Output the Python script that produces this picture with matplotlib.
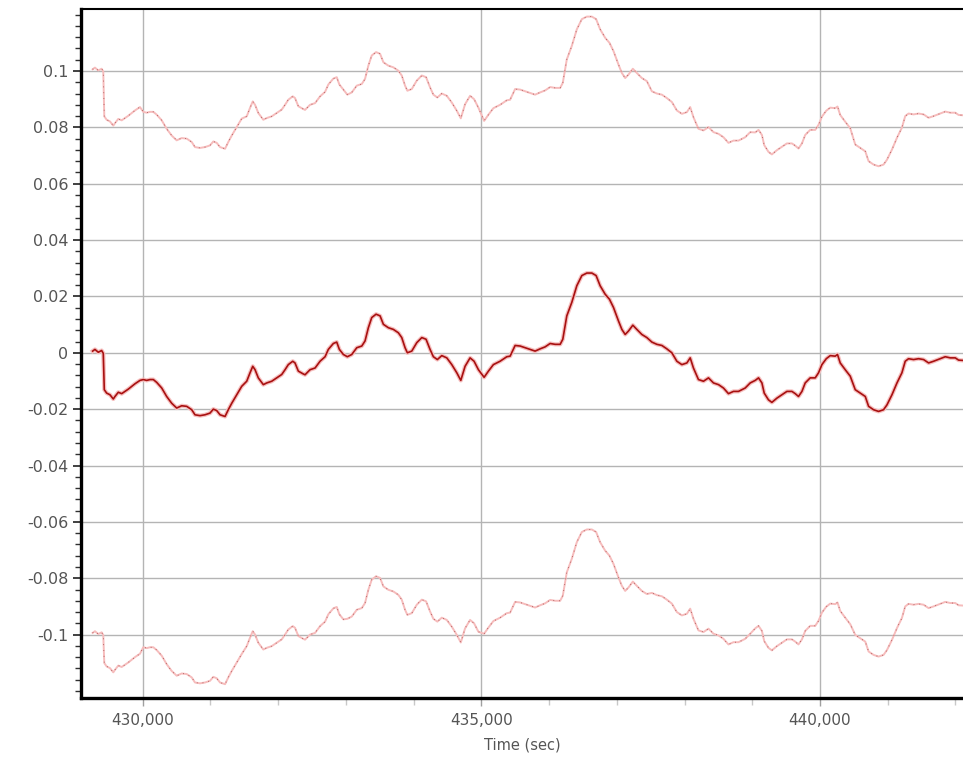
import matplotlib
matplotlib.use("Agg")
import matplotlib.pyplot as plt
from matplotlib.ticker import FixedLocator, MultipleLocator, FuncFormatter

# time stamps (sec)
time = [
    429261, 429295, 429344, 429394, 429418, 429433, 429468, 429517, 429566, 429591,
    429640, 429690, 429739, 429787, 429838, 429886, 429960, 430009, 430059, 430108,
    430157, 430207, 430281, 430354, 430428, 430502, 430576, 430650, 430724, 430772,
    430846, 430920, 430994, 431043, 431093, 431142, 431216, 431264, 431315, 431388,
    431462, 431536, 431585, 431625, 431659, 431707, 431781, 431831, 431905, 431979,
    432053, 432102, 432150, 432216, 432249, 432298, 432363, 432397, 432471, 432545,
    432619, 432693, 432741, 432815, 432865, 432904, 432963, 433022, 433087, 433161,
    433235, 433283, 433332, 433382, 433446, 433505, 433554, 433627, 433701, 433775,
    433825, 433874, 433908, 433973, 434047, 434121, 434184, 434243, 434292, 434351,
    434416, 434490, 434564, 434638, 434697, 434760, 434834, 434893, 434957, 435041,
    435105, 435178, 435277, 435376, 435425, 435499, 435573, 435647, 435720, 435794,
    435868, 435942, 436016, 436090, 436164, 436203, 436262, 436336, 436410, 436484,
    436558, 436632, 436695, 436754, 436828, 436892, 436951, 437025, 437075, 437124,
    437172, 437237, 437296, 437370, 437444, 437518, 437592, 437666, 437739, 437813,
    437887, 437961, 438035, 438084, 438132, 438206, 438280, 438354, 438428, 438502,
    438575, 438649, 438723, 438797, 438896, 438970, 439044, 439093, 439143, 439177,
    439240, 439290, 439364, 439438, 439512, 439586, 439635, 439683, 439734, 439782,
    439856, 439930, 439979, 440029, 440093, 440152, 440225, 440259, 440299, 440373,
    440447, 440521, 440595, 440669, 440718, 440791, 440865, 440939, 440989, 441063,
    441137, 441210, 441259, 441308, 441382, 441456, 441530, 441604, 441678, 441776,
    441850, 441924, 441998, 442047, 442111,
]

# estimate (dark red line)
estimate = [
    0.0006, 0.0012, 0.0002, 0.0008, -0.0002, -0.0131, -0.0143, -0.0149, -0.0164, -0.0155,
    -0.0140, -0.0145, -0.0137, -0.0129, -0.0119, -0.0110, -0.0098, -0.0095, -0.0098, -0.0095,
    -0.0095, -0.0105, -0.0125, -0.0155, -0.0179, -0.0196, -0.0188, -0.0190, -0.0202, -0.0220,
    -0.0223, -0.0220, -0.0214, -0.0200, -0.0205, -0.0220, -0.0226, -0.0202, -0.0179, -0.0149,
    -0.0119, -0.0101, -0.0071, -0.0048, -0.0060, -0.0089, -0.0113, -0.0107, -0.0101, -0.0089,
    -0.0077, -0.0060, -0.0042, -0.0030, -0.0036, -0.0065, -0.0074, -0.0078, -0.0060, -0.0054,
    -0.0030, -0.0014, 0.0012, 0.0033, 0.0038, 0.0012, -0.0006, -0.0014, -0.0006, 0.0018,
    0.0024, 0.0042, 0.0089, 0.0125, 0.0137, 0.0131, 0.0101, 0.0089, 0.0083, 0.0071,
    0.0054, 0.0018, 0.0000, 0.0006, 0.0036, 0.0054, 0.0048, 0.0012, -0.0014, -0.0024,
    -0.0010, -0.0018, -0.0042, -0.0071, -0.0098, -0.0048, -0.0018, -0.0030, -0.0060, -0.0087,
    -0.0065, -0.0042, -0.0030, -0.0014, -0.0012, 0.0026, 0.0024, 0.0018, 0.0012, 0.0006,
    0.0014, 0.0021, 0.0033, 0.0030, 0.0030, 0.0048, 0.0131, 0.0179, 0.0238, 0.0274,
    0.0283, 0.0283, 0.0274, 0.0238, 0.0208, 0.0190, 0.0161, 0.0113, 0.0083, 0.0065,
    0.0077, 0.0098, 0.0083, 0.0065, 0.0054, 0.0038, 0.0030, 0.0026, 0.0014, 0.0000,
    -0.0030, -0.0042, -0.0036, -0.0018, -0.0054, -0.0095, -0.0101, -0.0089, -0.0107, -0.0113,
    -0.0125, -0.0145, -0.0137, -0.0137, -0.0125, -0.0107, -0.0098, -0.0089, -0.0107, -0.0143,
    -0.0167, -0.0176, -0.0161, -0.0149, -0.0137, -0.0137, -0.0145, -0.0155, -0.0137, -0.0107,
    -0.0089, -0.0089, -0.0071, -0.0042, -0.0021, -0.0010, -0.0012, -0.0006, -0.0036, -0.0060,
    -0.0083, -0.0131, -0.0143, -0.0155, -0.0190, -0.0202, -0.0208, -0.0202, -0.0185, -0.0149,
    -0.0107, -0.0071, -0.0030, -0.0021, -0.0024, -0.0021, -0.0024, -0.0036, -0.0030, -0.0021,
    -0.0014, -0.0018, -0.0018, -0.0026, -0.0027,
]

# upper bound (light line on top)
upper = [
    0.1006, 0.1012, 0.1002, 0.1008, 0.0998, 0.0839, 0.0827, 0.0821, 0.0806, 0.0815,
    0.0830, 0.0825, 0.0833, 0.0841, 0.0851, 0.0860, 0.0872, 0.0855, 0.0852, 0.0855,
    0.0855, 0.0845, 0.0825, 0.0795, 0.0771, 0.0754, 0.0762, 0.0760, 0.0748, 0.0730,
    0.0727, 0.0730, 0.0736, 0.0750, 0.0745, 0.0730, 0.0724, 0.0748, 0.0771, 0.0801,
    0.0831, 0.0839, 0.0869, 0.0892, 0.0880, 0.0851, 0.0827, 0.0833, 0.0839, 0.0851,
    0.0863, 0.0880, 0.0898, 0.0910, 0.0904, 0.0875, 0.0866, 0.0862, 0.0880, 0.0886,
    0.0910, 0.0926, 0.0952, 0.0973, 0.0978, 0.0952, 0.0934, 0.0916, 0.0924, 0.0948,
    0.0954, 0.0972, 0.1019, 0.1055, 0.1067, 0.1061, 0.1031, 0.1019, 0.1013, 0.1001,
    0.0984, 0.0948, 0.0930, 0.0936, 0.0966, 0.0984, 0.0978, 0.0942, 0.0916, 0.0906,
    0.0920, 0.0912, 0.0888, 0.0859, 0.0832, 0.0882, 0.0912, 0.0900, 0.0870, 0.0823,
    0.0845, 0.0868, 0.0880, 0.0896, 0.0898, 0.0936, 0.0934, 0.0928, 0.0922, 0.0916,
    0.0924, 0.0931, 0.0943, 0.0940, 0.0940, 0.0958, 0.1041, 0.1089, 0.1148, 0.1184,
    0.1193, 0.1193, 0.1184, 0.1148, 0.1118, 0.1100, 0.1071, 0.1023, 0.0993, 0.0975,
    0.0987, 0.1008, 0.0993, 0.0975, 0.0964, 0.0928, 0.0920, 0.0916, 0.0904, 0.0890,
    0.0860, 0.0848, 0.0854, 0.0872, 0.0836, 0.0795, 0.0789, 0.0801, 0.0783, 0.0777,
    0.0765, 0.0745, 0.0753, 0.0753, 0.0765, 0.0783, 0.0782, 0.0791, 0.0773, 0.0737,
    0.0713, 0.0704, 0.0719, 0.0731, 0.0743, 0.0743, 0.0735, 0.0725, 0.0743, 0.0773,
    0.0791, 0.0791, 0.0809, 0.0838, 0.0859, 0.0870, 0.0868, 0.0874, 0.0844, 0.0820,
    0.0797, 0.0739, 0.0727, 0.0715, 0.0680, 0.0668, 0.0662, 0.0668, 0.0685, 0.0721,
    0.0763, 0.0799, 0.0840, 0.0849, 0.0846, 0.0849, 0.0846, 0.0834, 0.0840, 0.0849,
    0.0856, 0.0852, 0.0852, 0.0844, 0.0843,
]

# lower bound (light line at the bottom)
lower = [
    -0.0994, -0.0988, -0.0998, -0.0992, -0.1002, -0.1101, -0.1113, -0.1119, -0.1134, -0.1125,
    -0.1110, -0.1115, -0.1107, -0.1099, -0.1089, -0.1080, -0.1068, -0.1045, -0.1048, -0.1045,
    -0.1045, -0.1055, -0.1075, -0.1105, -0.1129, -0.1146, -0.1138, -0.1140, -0.1152, -0.1170,
    -0.1173, -0.1170, -0.1164, -0.1150, -0.1155, -0.1170, -0.1176, -0.1152, -0.1129, -0.1099,
    -0.1069, -0.1041, -0.1011, -0.0988, -0.1000, -0.1029, -0.1053, -0.1047, -0.1041, -0.1029,
    -0.1017, -0.1000, -0.0982, -0.0970, -0.0976, -0.1005, -0.1014, -0.1018, -0.1000, -0.0994,
    -0.0970, -0.0954, -0.0928, -0.0907, -0.0902, -0.0928, -0.0946, -0.0944, -0.0936, -0.0912,
    -0.0906, -0.0888, -0.0841, -0.0805, -0.0793, -0.0799, -0.0829, -0.0841, -0.0847, -0.0859,
    -0.0876, -0.0912, -0.0930, -0.0924, -0.0894, -0.0876, -0.0882, -0.0918, -0.0944, -0.0954,
    -0.0940, -0.0948, -0.0972, -0.1001, -0.1028, -0.0978, -0.0948, -0.0960, -0.0990, -0.0997,
    -0.0975, -0.0952, -0.0940, -0.0924, -0.0922, -0.0884, -0.0886, -0.0892, -0.0898, -0.0904,
    -0.0896, -0.0889, -0.0877, -0.0880, -0.0880, -0.0862, -0.0779, -0.0731, -0.0672, -0.0636,
    -0.0627, -0.0627, -0.0636, -0.0672, -0.0702, -0.0720, -0.0749, -0.0797, -0.0827, -0.0845,
    -0.0833, -0.0812, -0.0827, -0.0845, -0.0856, -0.0852, -0.0860, -0.0864, -0.0876, -0.0890,
    -0.0920, -0.0932, -0.0926, -0.0908, -0.0944, -0.0985, -0.0991, -0.0979, -0.0997, -0.1003,
    -0.1015, -0.1035, -0.1027, -0.1027, -0.1015, -0.0997, -0.0978, -0.0969, -0.0987, -0.1023,
    -0.1047, -0.1056, -0.1041, -0.1029, -0.1017, -0.1017, -0.1025, -0.1035, -0.1017, -0.0987,
    -0.0969, -0.0969, -0.0951, -0.0922, -0.0901, -0.0890, -0.0892, -0.0886, -0.0916, -0.0940,
    -0.0963, -0.1001, -0.1013, -0.1025, -0.1060, -0.1072, -0.1078, -0.1072, -0.1055, -0.1019,
    -0.0977, -0.0941, -0.0900, -0.0891, -0.0894, -0.0891, -0.0894, -0.0906, -0.0900, -0.0891,
    -0.0884, -0.0888, -0.0888, -0.0896, -0.0897,
]

x_ticks = [430000, 435000, 440000]
y_ticks = [-0.1, -0.08, -0.06, -0.04, -0.02, 0, 0.02, 0.04, 0.06, 0.08, 0.1]

fig = plt.figure(figsize=(9.63, 7.63), dpi=100)
ax = fig.add_axes([0.0841, 0.0852, 0.9159, 0.9030])

# bounds: light pink line with a few darker specks
for band in (upper, lower):
    ax.plot(time, band, color="#f6bcbc", lw=1.4, zorder=3)
    ax.plot(time, band, color="#8a3030", lw=0.6, ls=(0, (1, 6)), alpha=0.8, zorder=4)

ax.plot(time, estimate, color="#f6c0c0", lw=3.0, zorder=4)
ax.plot(time, estimate, color="#a81010", lw=1.2, zorder=5)

ax.set_xlim(429089, 442112)
ax.set_ylim(-0.1225, 0.122)

ax.xaxis.set_major_locator(FixedLocator(x_ticks))
ax.xaxis.set_minor_locator(MultipleLocator(1000))
ax.xaxis.set_major_formatter(FuncFormatter(lambda v, p: f"{int(v):,}"))
ax.yaxis.set_major_locator(FixedLocator(y_ticks))
ax.yaxis.set_minor_locator(MultipleLocator(0.004))
ax.yaxis.set_major_formatter(FuncFormatter(lambda v, p: "0" if abs(v) < 1e-9 else f"{v:g}"))

ax.grid(True, which="major", color="#b4b4b4", lw=1.0, zorder=0)
ax.tick_params(axis="y", which="major", direction="out", length=6, width=1.2,
               color="#202020", labelsize=11.5, labelcolor="#555555", pad=3)
ax.tick_params(axis="y", which="minor", direction="out", length=4, width=1.0, color="#303030")
ax.tick_params(axis="x", which="major", direction="out", length=6, width=1.0,
               color="#a0a0a0", labelsize=11, labelcolor="#555555", pad=5)
ax.tick_params(axis="x", which="minor", direction="out", length=5, width=1.0, color="#c8c8c8")

ax.spines["left"].set_linewidth(2.4)
ax.spines["bottom"].set_linewidth(2.4)
ax.spines["top"].set_linewidth(1.5)
ax.spines["right"].set_visible(False)
for s in ("left", "bottom", "top"):
    ax.spines[s].set_color("#000000")

ax.set_xlabel("Time (sec)", fontsize=10.5, color="#555555", labelpad=7)

fig.savefig("out.png", dpi=100)
